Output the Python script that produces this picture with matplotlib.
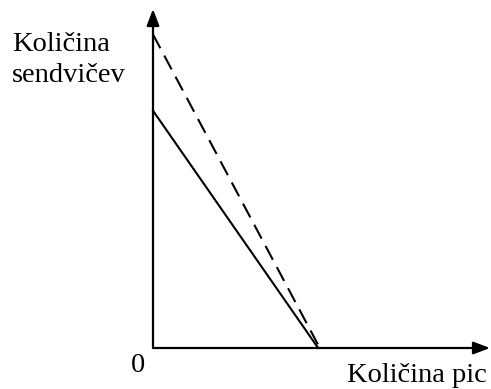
import matplotlib.pyplot as plt

plt.rcParams['font.family'] = ['Liberation Serif', 'DejaVu Serif']

# budget lines: (pizza intercept, sandwich intercept)
solid_line = [4.9, 7.0]
dashed_line = [4.95, 9.25]
x_label = 'Količina pic'
y_label = 'Količina\nsendvičev'
origin_label = '0'

W, H = 491, 389
fig = plt.figure(figsize=(W / 100, H / 100), dpi=100)
ax = fig.add_axes([153 / W, 41 / H, 337 / W, 339 / H])
ax.set_xlim(0, 10)
ax.set_ylim(0, 10)
ax.axis('off')

# axes with arrow heads
arrow = dict(arrowstyle='-|>,head_length=1.0,head_width=0.38', color='black', lw=1.6,
             shrinkA=0, shrinkB=0)
ax.annotate('', xy=(10, 0), xytext=(0, 0), xycoords='data', annotation_clip=False,
            arrowprops=arrow)
ax.annotate('', xy=(0, 10), xytext=(0, 0), xycoords='data', annotation_clip=False,
            arrowprops=arrow)

ax.plot([0, solid_line[0]], [solid_line[1], 0], color='black', lw=1.5, clip_on=False)
ax.plot([0, dashed_line[0]], [dashed_line[1], 0], color='black', lw=1.5,
        dashes=(7.5, 4), clip_on=False)

fs = 20.5
fig.text(12 / W, 1 - 82 / H, y_label, fontsize=fs, ha='left', va='baseline',
         linespacing=1.3)
fig.text(487 / W, 1 - 382 / H, x_label, fontsize=fs, ha='right', va='baseline')
fig.text(138 / W, 1 - 372 / H, origin_label, fontsize=fs, ha='center', va='baseline')

fig.savefig('out.png', dpi=100)
